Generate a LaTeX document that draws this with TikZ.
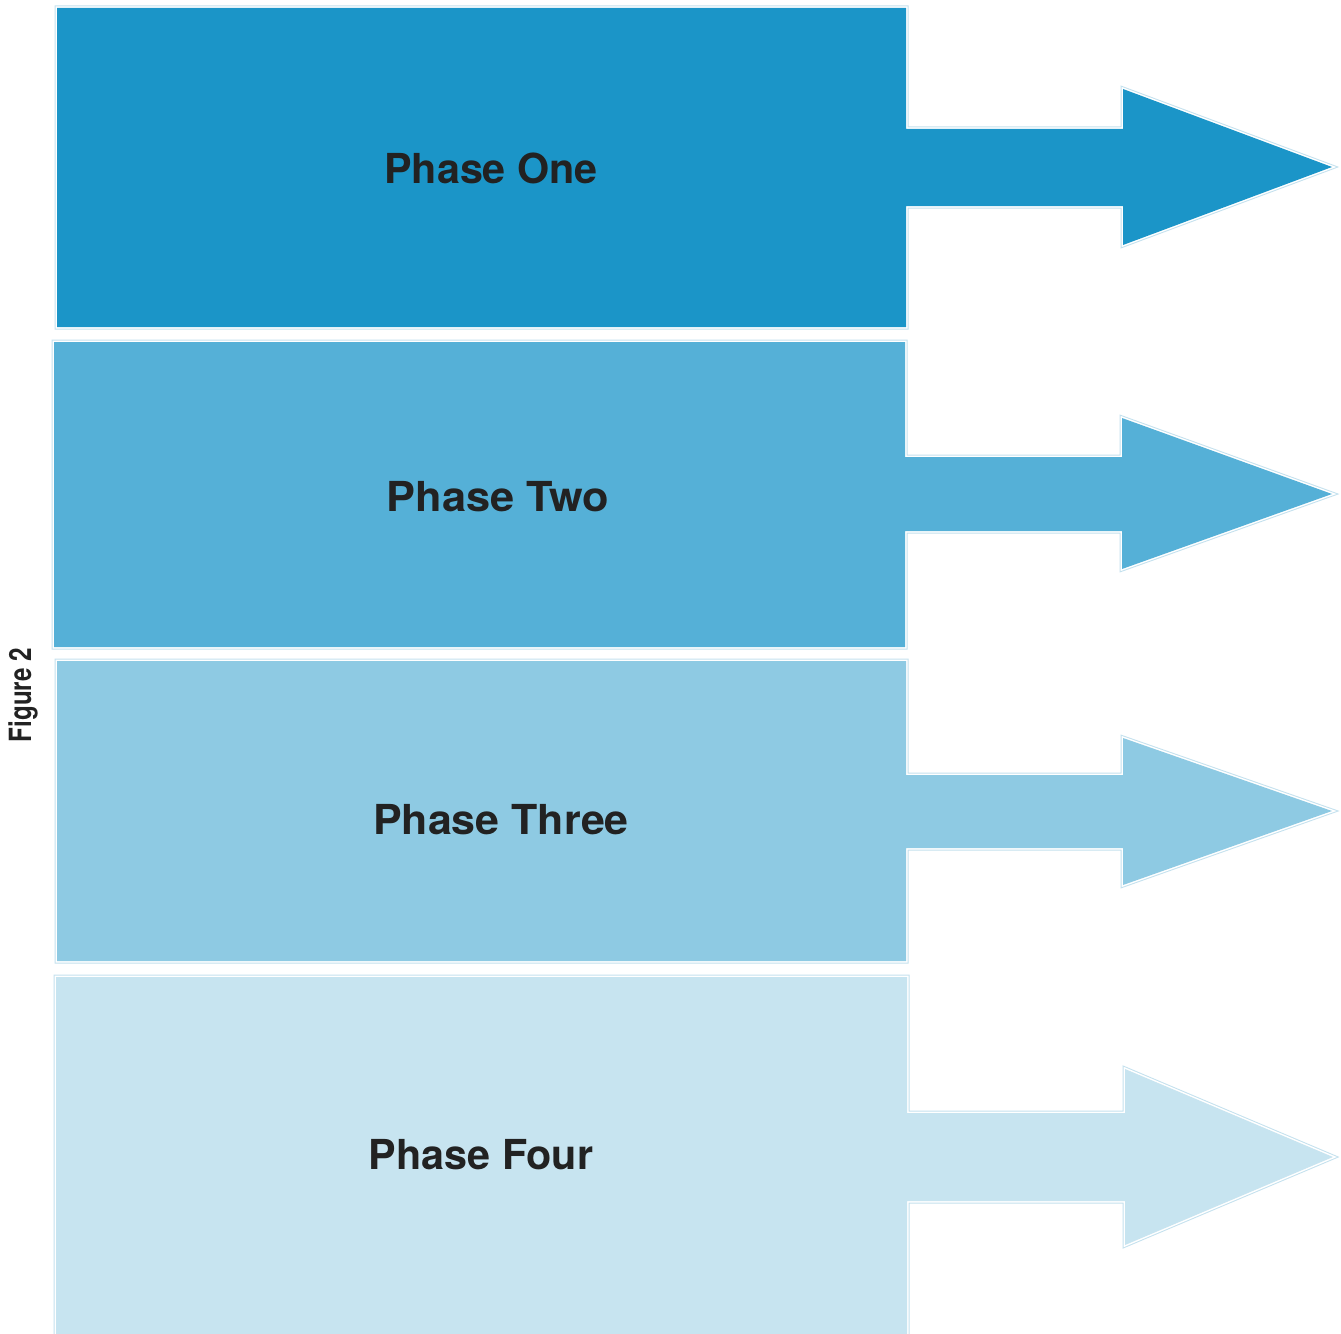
\documentclass[tikz,border=0pt]{standalone}
\usepackage{fontspec}
\setmainfont{TeX Gyre Heros}
\definecolor{phaseone}{HTML}{1B95C8}
\definecolor{phasetwo}{HTML}{55B0D7}
\definecolor{phasethree}{HTML}{8ECAE3}
\definecolor{phasefour}{HTML}{C7E4F0}
\definecolor{edgeblue}{HTML}{C4E1EE}
\definecolor{textgray}{HTML}{222222}
\begin{document}
\begin{tikzpicture}[x=0.2mm,y=-0.2mm,
    phase/.style={fill=#1,preaction={draw=edgeblue,line width=1mm},preaction={draw=white,line width=0.6mm}},
    phaselabel/.style={font=\bfseries\fontsize{23.5}{28}\selectfont,text=textgray}]
    %% page
    \useasboundingbox[fill=white] (0,0) rectangle (1341,1334);
    %% side caption
    \node[rotate=90,font=\bfseries\fontsize{17.4}{20}\selectfont,text=textgray] (caption) at (23,695) {\scalebox{0.79}[1]{Figure 2}};
    %% boxes with their arrows
    \foreach \c/\l/\t/\b/\r/\st/\sb/\hx/\ht/\hb/\tx/\ty in {
            phaseone/57/8/327/906/129/206/1123/89/245/1332/167,
            phasetwo/54/342/647/905/457/531/1122/418/569/1332/494,
            phasethree/57/661/961/906/775/848/1123/738/885/1332/811,
            phasefour/56/977/1345/907/1113/1201/1125/1069/1245/1333/1157}
        \path[phase=\c] (\l,\t) -- (\r,\t) -- (\r,\st) -- (\hx,\st) -- (\hx,\ht) -- (\tx,\ty)
            -- (\hx,\hb) -- (\hx,\sb) -- (\r,\sb) -- (\r,\b) -- (\l,\b) -- cycle;
    %% labels
    \node[phaselabel] (one) at (491,168) {Phase One};
    \node[phaselabel,xscale=1.05] (two) at (498,497) {Phase Two};
    \node[phaselabel,xscale=1.04] (three) at (501,820) {Phase Three};
    \node[phaselabel] (four) at (481,1155) {Phase Four};
\end{tikzpicture}
\end{document}
